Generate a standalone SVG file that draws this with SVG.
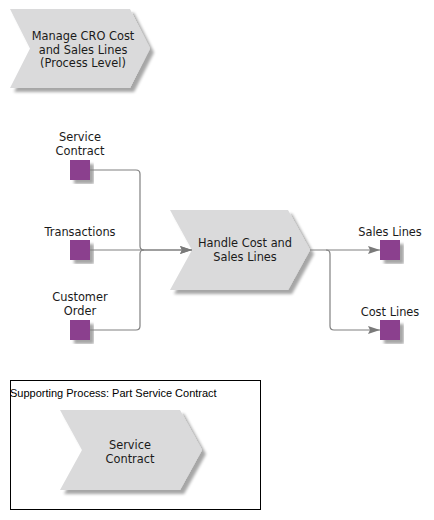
<svg xmlns="http://www.w3.org/2000/svg" width="434" height="520" viewBox="0 0 434 520">
<defs>
<filter id="sh" x="-20%" y="-20%" width="140%" height="140%">
<feGaussianBlur in="SourceAlpha" stdDeviation="1.5"/>
<feOffset dx="4" dy="4" result="b"/>
<feComponentTransfer><feFuncA type="linear" slope="0.35"/></feComponentTransfer>
<feMerge><feMergeNode/><feMergeNode in="SourceGraphic"/></feMerge>
</filter>
<marker id="arr" viewBox="0 0 12 8" refX="12" refY="4" markerWidth="12" markerHeight="8" markerUnits="userSpaceOnUse" orient="auto">
<path d="M0,0 L12,4 L0,8 L2,4 Z" fill="#7a7a7a"/>
</marker>
<style>
.chev{fill:#dadadb;filter:url(#sh)}
.obj{fill:#8b3f8e;filter:url(#sh)}
.t{font-family:"DejaVu Sans",Verdana,sans-serif;font-size:11.4px;fill:#1a1a1a;text-anchor:middle}
.c{fill:none;stroke:#808080;stroke-width:1.2}
.box{fill:#fff;stroke:#000;stroke-width:1}
.bt{font-family:"Liberation Sans",Arial,sans-serif;font-size:11px;fill:#000}
</style>
</defs>
<rect width="434" height="520" fill="#fff"/>

<g id="process-level">
<polygon class="chev" points="10,9 130,9 150,48.5 130,88 10,88 30,48.5"/>
<text class="t" x="83" y="40">Manage CRO Cost</text>
<text class="t" x="83" y="54">and Sales Lines</text>
<text class="t" x="83" y="67">(Process Level)</text>
</g>

<g id="service-contract">
<text class="t" x="80" y="141">Service</text>
<text class="t" x="80" y="155">Contract</text>
<rect class="obj" x="70" y="160" width="20" height="20"/>
</g>

<g id="transactions">
<text class="t" x="80" y="236">Transactions</text>
<rect class="obj" x="70" y="240" width="20" height="20"/>
</g>

<g id="customer-order">
<text class="t" x="80" y="301">Customer</text>
<text class="t" x="80" y="315">Order</text>
<rect class="obj" x="70" y="320" width="20" height="20"/>
</g>

<g id="handle">
<polygon class="chev" points="170,210 288,210 310,250 288,290 170,290 192,250"/>
<text class="t" x="245" y="247">Handle Cost and</text>
<text class="t" x="245" y="261">Sales Lines</text>
</g>

<g id="sales-lines">
<text class="t" x="390" y="236">Sales Lines</text>
<rect class="obj" x="380" y="240" width="20" height="20"/>
</g>

<g id="cost-lines">
<text class="t" x="390" y="316">Cost Lines</text>
<rect class="obj" x="380" y="320" width="20" height="20"/>
</g>

<g id="connectors">
<path class="c" d="M90,170 H136 Q140,170 140,174 V246 Q140,250 144,250 H192" marker-end="url(#arr)"/>
<path class="c" d="M90,330 H136 Q140,330 140,326 V254 Q140,250 144,250"/>
<path class="c" d="M90,250 H192" marker-end="url(#arr)"/>
<path class="c" d="M310,250 H380" marker-end="url(#arr)"/>
<path class="c" d="M326,250 Q330,250 330,254 V326 Q330,330 334,330 H380" marker-end="url(#arr)"/>
</g>

<g id="supporting-process">
<rect class="box" x="10.5" y="380.5" width="250" height="129"/>
<text class="bt" x="10" y="397">Supporting Process: Part Service Contract</text>
<g id="service-contract-process">
<polygon class="chev" points="60,410 180,410 202,450 180,490 60,490 82,450"/>
<text class="t" x="130" y="449">Service</text>
<text class="t" x="130" y="463">Contract</text>
</g>
</g>
</svg>
